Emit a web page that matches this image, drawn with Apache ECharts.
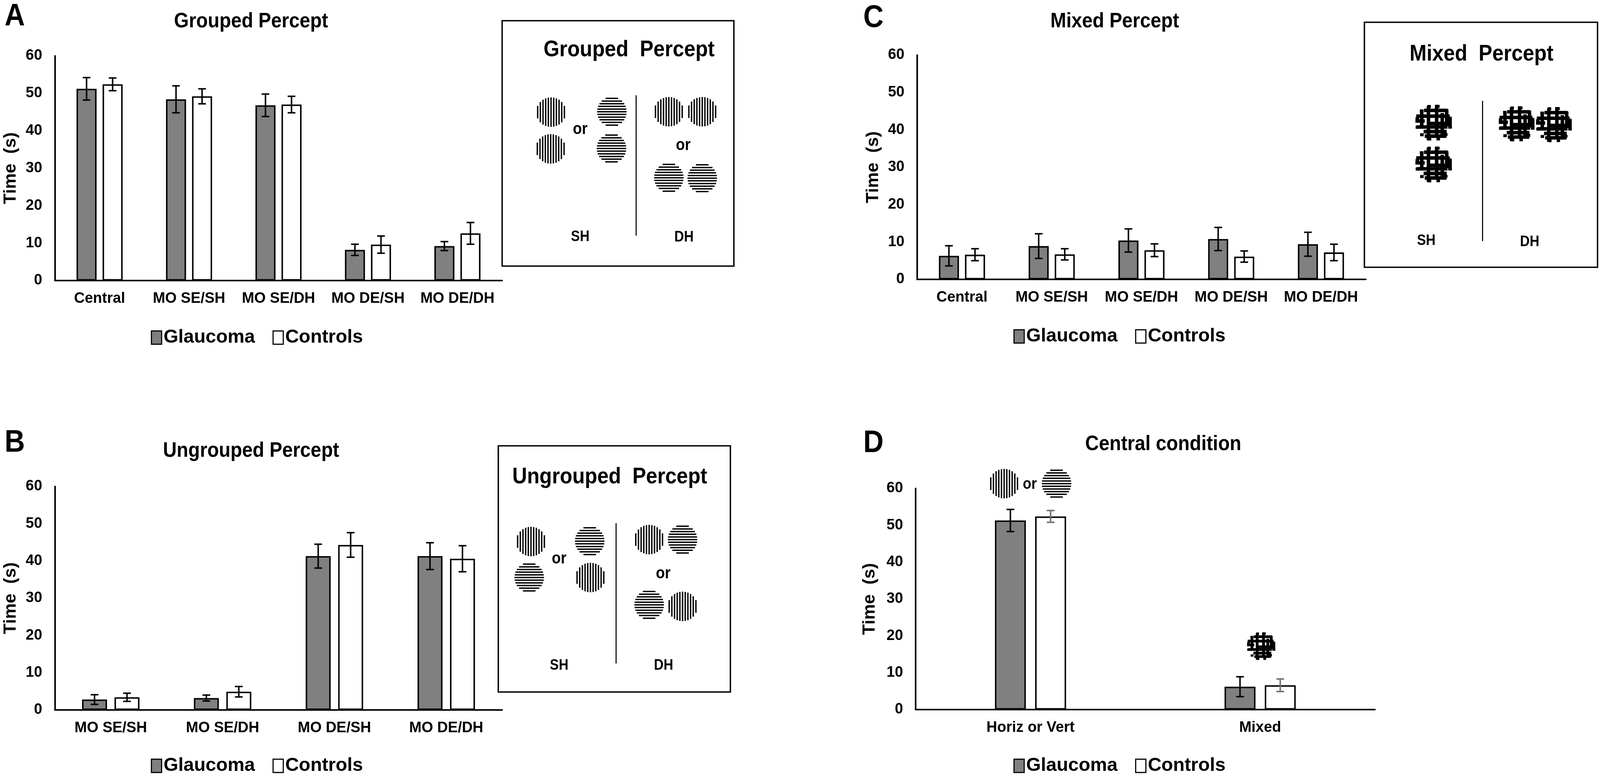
<!DOCTYPE html>
<html><head><meta charset="utf-8">
<script src="https://cdn.jsdelivr.net/npm/echarts@6/dist/echarts.min.js"></script>
<style>html,body{margin:0;padding:0;background:#fff;overflow:hidden}</style>
</head><body><div id="c"></div>
<script>
// ---------------- data ----------------
const legendNames = ['Glaucoma', 'Controls'];
const yAxisName = 'Time  (s)';
const yMin = 0, yMax = 60, yStep = 10;

const catA = ['Central', 'MO SE/SH', 'MO SE/DH', 'MO DE/SH', 'MO DE/DH'];
const glaucA = [51.2, 48.4, 46.8, 8.2, 9.2];
const glaucAErr = [3.0, 3.6, 3.0, 1.5, 1.2];
const ctrlA = [52.4, 49.2, 47.0, 9.6, 12.6];
const ctrlAErr = [1.7, 2.0, 2.2, 2.3, 2.9];

const catB = ['MO SE/SH', 'MO SE/DH', 'MO DE/SH', 'MO DE/DH'];
const glaucB = [2.8, 3.2, 41.3, 41.3];
const glaucBErr = [1.3, 0.8, 3.2, 3.6];
const ctrlB = [3.4, 4.9, 44.3, 40.6];
const ctrlBErr = [1.1, 1.4, 3.3, 3.5];

const catC = ['Central', 'MO SE/SH', 'MO SE/DH', 'MO DE/SH', 'MO DE/DH'];
const glaucC = [6.3, 8.9, 10.4, 10.8, 9.4];
const glaucCErr = [2.7, 3.3, 3.1, 3.1, 3.2];
const ctrlC = [6.6, 6.7, 7.8, 6.1, 7.2];
const ctrlCErr = [1.6, 1.5, 1.7, 1.5, 2.2];

const catD = ['Horiz or Vert', 'Mixed'];
const glaucD = [51.3, 6.2];
const glaucDErr = [3.0, 2.7];
const ctrlD = [52.4, 6.6];
const ctrlDErr = [1.6, 1.7];

const panelTitles = ['Grouped Percept', 'Ungrouped Percept', 'Mixed Percept', 'Central condition'];
const panelLetters = ['A', 'B', 'C', 'D'];
const insetTitles = ['Grouped  Percept', 'Ungrouped  Percept', 'Mixed  Percept'];
const insetLabels = ['SH', 'DH'];
const orText = 'or';

// ---------------- layout (designed for 4550 x 1986, scaled to the viewport) ----------------
const VW = window.innerWidth || 4550, VH = window.innerHeight || 1986;
const KX = VW / 4550, KY = VH / 1986, KF = Math.min(KX, KY), KT = Math.sqrt(KX * KY);
const sx = v => v * KX, sy = v => v * KY, sf = v => v * KF, st = v => v * KT;
const el = document.getElementById('c');
el.style.width = VW + 'px';
el.style.height = VH + 'px';

const FONT = '"Liberation Sans", Arial, Helvetica, sans-serif';
const panels = [
  {cats: catA, g: glaucA, ge: glaucAErr, c: ctrlA, ce: ctrlAErr,
   grid: [156, 143, 1272, 575], barW: 57, nameGap: 100, ctrlErrColor: '#000',
   title: [714, 55], letter: [13, 43], legend: [429, 836]},
  {cats: catB, g: glaucB, ge: glaucBErr, c: ctrlB, ce: ctrlBErr,
   grid: [156, 1245, 1272, 572], barW: 71, nameGap: 100, ctrlErrColor: '#000',
   title: [714, 1154], letter: [13, 1134], legend: [429, 1932]},
  {cats: catC, g: glaucC, ge: glaucCErr, c: ctrlC, ce: ctrlCErr,
   grid: [2608, 141, 1276, 574], barW: 57, nameGap: 100, ctrlErrColor: '#000',
   title: [3170, 55], letter: [2455, 47], legend: [2882, 833]},
  {cats: catD, g: glaucD, ge: glaucDErr, c: ctrlD, ce: ctrlDErr,
   grid: [2604, 1250, 1306, 566], barW: 88, nameGap: 106, ctrlErrColor: '#707070',
   title: [3308, 1137], letter: [2455, 1135], legend: [2882, 1932]}
];
const GAP = 0.30;

function errRender(sign, barW, color) {
  return function (params, api) {
    const idx = api.value(0), v = api.value(1), e = api.value(2);
    const hi = api.coord([idx, v + e]);
    const lo = api.coord([idx, v - e]);
    const x = hi[0] + sign * barW * (1 + GAP) / 2;
    const cap = sx(11);
    const s = {stroke: color, lineWidth: sf(4.2)};
    return {type: 'group', children: [
      {type: 'line', shape: {x1: x, y1: hi[1], x2: x, y2: lo[1]}, style: s},
      {type: 'line', shape: {x1: x - cap, y1: hi[1], x2: x + cap, y2: hi[1]}, style: s},
      {type: 'line', shape: {x1: x - cap, y1: lo[1], x2: x + cap, y2: lo[1]}, style: s}
    ]};
  };
}

const grids = [], xAxes = [], yAxes = [], series = [], legends = [];
panels.forEach((p, i) => {
  const bw = sx(p.barW);
  grids.push({containLabel: false, outerBoundsMode: 'none',
    left: sx(p.grid[0]), top: sy(p.grid[1]), width: sx(p.grid[2]), height: sy(p.grid[3])});
  xAxes.push({
    type: 'category', gridIndex: i, data: p.cats,
    axisLine: {show: true, lineStyle: {color: '#000', width: sf(4.5)}},
    axisTick: {show: false}, splitLine: {show: false},
    axisLabel: {color: '#000', fontFamily: FONT, fontWeight: 'bold', fontSize: st(40), margin: sy(28), interval: 0}
  });
  yAxes.push({
    type: 'value', gridIndex: i, min: yMin, max: yMax, interval: yStep,
    axisLine: {show: true, lineStyle: {color: '#000', width: sf(4.5)}},
    axisTick: {show: false}, splitLine: {show: false},
    axisLabel: {color: '#000', fontFamily: FONT, fontWeight: 'bold', fontSize: st(40), margin: sx(36)},
    name: yAxisName, nameLocation: 'middle', nameRotate: 90, nameGap: sx(p.nameGap), nameMoveOverlap: false,
    nameTextStyle: {color: '#000', fontFamily: FONT, fontWeight: 'bold', fontSize: sy(45)}
  });
  series.push({
    type: 'bar', name: legendNames[0], xAxisIndex: i, yAxisIndex: i, data: p.g,
    barWidth: bw, barGap: (GAP * 100) + '%',
    itemStyle: {color: '#808080', borderColor: '#000', borderWidth: sf(4.2)}, z: 2
  });
  series.push({
    type: 'bar', name: legendNames[1], xAxisIndex: i, yAxisIndex: i, data: p.c,
    barWidth: bw, barGap: (GAP * 100) + '%',
    itemStyle: {color: '#ffffff', borderColor: '#000', borderWidth: sf(4.2)}, z: 2
  });
  series.push({
    type: 'custom', name: 'errG' + i, xAxisIndex: i, yAxisIndex: i, z: 5,
    data: p.g.map((v, k) => [k, v, p.ge[k]]), encode: {x: 0, y: 1},
    renderItem: errRender(-1, bw, '#000')
  });
  series.push({
    type: 'custom', name: 'errC' + i, xAxisIndex: i, yAxisIndex: i, z: 5,
    data: p.c.map((v, k) => [k, v, p.ce[k]]), encode: {x: 0, y: 1},
    renderItem: errRender(1, bw, p.ctrlErrColor)
  });
  legends.push({
    data: legendNames, left: sx(p.legend[0]), top: sy(p.legend[1]), padding: 0,
    icon: 'rect', itemWidth: sx(29), itemHeight: sy(34), itemGap: sx(50), orient: 'horizontal',
    itemStyle: {borderColor: '#000', borderWidth: sf(3.2)},
    textStyle: {color: '#000', fontFamily: FONT, fontWeight: 'bold', fontSize: st(51), lineHeight: sy(56)}
  });
});

const chart = echarts.init(el, null, {renderer: 'canvas'});
chart.setOption({
  animation: false,
  backgroundColor: '#fff',
  textStyle: {fontFamily: FONT},
  grid: grids, xAxis: xAxes, yAxis: yAxes, series: series, legend: legends
});

// ---------------- decorative graphics ----------------
function txtPx(x, y, s, size, align) {
  return {type: 'text', x: x, y: y, silent: true, z: 10, scaleX: 1, scaleY: KY / KX,
    style: {text: s, fill: '#000', fontFamily: FONT, fontWeight: 'bold', fontSize: size * KX,
      align: align || 'center', verticalAlign: 'middle'}};
}
const txt = (x, y, s, size, align) => txtPx(sx(x), sy(y), s, size, align);
function lnPx(x1, y1, x2, y2, w) {
  return {type: 'line', silent: true, z: 10, shape: {x1: x1, y1: y1, x2: x2, y2: y2},
    style: {stroke: '#000', lineWidth: w, lineCap: 'butt'}};
}
function ln(x1, y1, x2, y2, w) { return lnPx(sx(x1), sy(y1), sx(x2), sy(y2), sf(w)); }
// grating disc (centre and radius in pixels)
function gratingPx(cx, cy, r, vertical) {
  const per = r * 7.6 / 42, w = r * 3.9 / 42, out = [];
  const n = Math.floor((r - w / 2) / per);
  for (let k = -n; k <= n; k++) {
    const d = k * per;
    const h = Math.sqrt(Math.max(0, r * r - d * d));
    if (vertical) out.push(lnPx(cx + d, cy - h, cx + d, cy + h, w));
    else out.push(lnPx(cx - h, cy + d, cx + h, cy + d, w));
  }
  return out;
}
const grating = (cx, cy, r, v) => gratingPx(sx(cx), sy(cy), sf(r), v);
// plaid ("mixed") pattern: bar segments in units of r/5
const plaidH = [[-3.3, -2.6, 3.8], [-1.75, -4.9, 4.3], [-0.45, -4.9, -2.4], [0.2, -1.0, 4.7],
  [1.15, -4.6, 3.7], [2.4, -2.7, 3.5], [3.6, -2.4, 3.8]];
const plaidV = [[-3.2, -3.4, 1.6], [-1.4, -4.5, 4.7], [0.8, -4.8, 3.8], [2.3, -2.6, 3.9],
  [3.5, -3.6, 1.0], [4.4, -1.2, 1.6]];
function plaidPx(cx, cy, r) {
  const u = r / 5, w = 0.95 * u, out = [];
  plaidH.forEach(s => {
    const y = s[0] * u, h = Math.sqrt(Math.max(0, r * r - y * y));
    const a = Math.max(s[1] * u, -h), b = Math.min(s[2] * u, h);
    if (b > a) out.push(lnPx(cx + a, cy + y, cx + b, cy + y, w));
  });
  plaidV.forEach(s => {
    const x = s[0] * u, h = Math.sqrt(Math.max(0, r * r - x * x));
    const a = Math.max(s[1] * u, -h), b = Math.min(s[2] * u, h);
    if (b > a) out.push(lnPx(cx + x, cy + a, cx + x, cy + b, w));
  });
  for (let t = 0; t < 12; t++) {
    const ang = t * Math.PI / 6 + 0.25;
    const x = cx + Math.cos(ang) * (r - w * 0.5), y = cy + Math.sin(ang) * (r - w * 0.5);
    out.push(lnPx(x - w * 0.5, y, x + w * 0.5, y, w * 0.85));
  }
  return out;
}
const plaid = (cx, cy, r) => plaidPx(sx(cx), sy(cy), sf(r));
function box(x1, y1, x2, y2) {
  return {type: 'rect', silent: true, z: 9,
    shape: {x: sx(x1), y: sy(y1), width: sx(x2 - x1), height: sy(y2 - y1)},
    style: {fill: '#fff', stroke: '#000', lineWidth: sf(4)}};
}

const G = [];
panels.forEach((p, i) => {
  G.push(txt(p.title[0], p.title[1], panelTitles[i], 54));
  G.push(txt(p.letter[0], p.letter[1], panelLetters[i], 80, 'left'));
});

// inset A (grouped)
G.push(box(1428, 53, 2087, 681));
G.push(txt(1789, 128, insetTitles[0], 58));
G.push(...grating(1567, 287, 42, true), ...grating(1566, 381, 42, true));
G.push(txt(1650, 331, orText, 42));
G.push(...grating(1740, 286, 42, false), ...grating(1739, 380, 42, false));
G.push(ln(1809, 244, 1809, 603, 3));
G.push(...grating(1902, 286, 42, true), ...grating(1997, 286, 42, true));
G.push(txt(1943, 372, orText, 42));
G.push(...grating(1902, 455, 42, false), ...grating(1997, 456, 42, false));
G.push(txt(1650, 607, insetLabels[0], 38), txt(1945, 608, insetLabels[1], 38));

// inset B (ungrouped)
G.push(box(1417, 1141, 2077, 1771));
G.push(txt(1734, 1221, insetTitles[1], 58));
G.push(...grating(1510, 1386, 42, true), ...grating(1505, 1478, 42, false));
G.push(txt(1590, 1430, orText, 42));
G.push(...grating(1677, 1385, 42, false), ...grating(1679, 1478, 42, true));
G.push(ln(1752, 1339, 1752, 1698, 3));
G.push(...grating(1846, 1381, 42, true), ...grating(1941, 1381, 42, false));
G.push(txt(1886, 1468, orText, 42));
G.push(...grating(1846, 1548, 42, false), ...grating(1941, 1552, 42, true));
G.push(txt(1590, 1704, insetLabels[0], 38), txt(1887, 1704, insetLabels[1], 38));

// inset C (mixed)
G.push(box(3880, 57, 4543, 684));
G.push(txt(4213, 139, insetTitles[2], 58));
G.push(...plaid(4077, 314, 53), ...plaid(4077, 421, 53));
G.push(ln(4216, 258, 4216, 617, 3));
G.push(...plaid(4313, 317, 52), ...plaid(4419, 319, 52));
G.push(txt(4056, 617, insetLabels[0], 38), txt(4350, 620, insetLabels[1], 38));

// panel D icons, anchored to the axis scale
const fD = {xAxisIndex: 3, yAxisIndex: 3};
const topIcon = chart.convertToPixel(fD, [0, 61.3]);
G.push(...gratingPx(topIcon[0] - sx(75), topIcon[1], sf(42), true));
G.push(txtPx(topIcon[0] - sx(2), topIcon[1] + sy(2), orText, 40));
G.push(...gratingPx(topIcon[0] + sx(74), topIcon[1], sf(42), false));
const mixIcon = chart.convertToPixel(fD, [1, 17.2]);
G.push(...plaidPx(mixIcon[0] + sx(3), mixIcon[1], sf(41)));

chart.setOption({graphic: G});
</script>
</body></html>
